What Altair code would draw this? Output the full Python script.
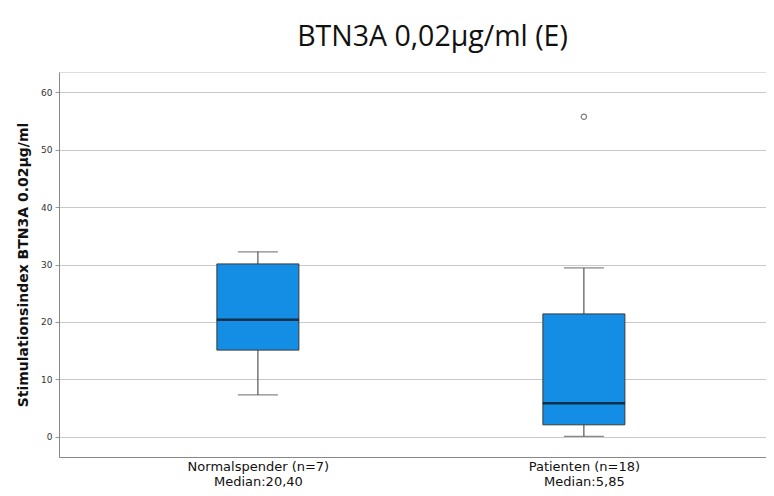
import altair as alt
import pandas as pd

groups = ["Normalspender (n=7)", "Patienten (n=18)"]
median_labels = ["Median:20,40", "Median:5,85"]
whisker_low = [7.3, 0.1]
q1 = [15.1, 2.1]
median = [20.4, 5.85]
q3 = [30.1, 21.4]
whisker_high = [32.2, 29.4]

outlier_groups = ["Patienten (n=18)"]
outlier_values = [55.7]

y_ticks = [0, 10, 20, 30, 40, 50, 60]

labels = [g + "|" + m for g, m in zip(groups, median_labels)]
df = pd.DataFrame({
    "label": labels,
    "low": whisker_low,
    "q1": q1,
    "median": median,
    "q3": q3,
    "high": whisker_high,
})
lab_map = dict(zip(groups, labels))
df_out = pd.DataFrame({"label": [lab_map[g] for g in outlier_groups], "value": outlier_values})

x_enc = alt.X(
    "label:N",
    sort=labels,
    scale=alt.Scale(type="point", padding=0.5844, align=0.522),
    axis=alt.Axis(
        title=None, labelAngle=0, ticks=False, grid=False,
        labelExpr="split(datum.label, '|')",
        labelFont="DejaVu Sans", labelFontSize=13, labelColor="#111",
        labelLineHeight=15, labelPadding=3,
        domainColor="#888", domainWidth=1,
    ),
)
y_scale = alt.Scale(domain=[-3.5, 63.5], nice=False, zero=False)
y_axis = alt.Axis(
    title="Stimulationsindex BTN3A 0.02µg/ml",
    values=y_ticks, grid=True, gridColor="#c9c9c9", gridWidth=1,
    tickSize=4, tickColor="#999", labelPadding=3,
    labelFont="DejaVu Sans", labelFontSize=9, labelColor="#333",
    titleFont="DejaVu Sans", titleFontSize=14, titleFontWeight="bold",
    titleColor="#111", titlePadding=10,
    domainColor="#888", domainWidth=1,
)

base = alt.Chart(df)

whisk_lo = base.mark_rule(color="#555", strokeWidth=1.2).encode(
    x=x_enc, y=alt.Y("low:Q", scale=y_scale, axis=y_axis), y2="q1:Q")
whisk_hi = base.mark_rule(color="#555", strokeWidth=1.2).encode(
    x=x_enc, y=alt.Y("q3:Q", scale=y_scale), y2="high:Q")
cap_lo = base.mark_tick(color="#555", size=40, thickness=1.2).encode(
    x=x_enc, y=alt.Y("low:Q", scale=y_scale))
cap_hi = base.mark_tick(color="#555", size=40, thickness=1.2).encode(
    x=x_enc, y=alt.Y("high:Q", scale=y_scale))
box = base.mark_bar(size=82, color="#148de4", stroke="#3a3a3a", strokeWidth=1).encode(
    x=x_enc, y=alt.Y("q1:Q", scale=y_scale), y2="q3:Q")
med = base.mark_tick(color="#0a0a0a", size=82, thickness=2.5).encode(
    x=x_enc, y=alt.Y("median:Q", scale=y_scale))
out = alt.Chart(df_out).mark_point(shape="circle", filled=False, color="#444", size=28, strokeWidth=1.2).encode(
    x=x_enc, y=alt.Y("value:Q", scale=y_scale))

chart = alt.layer(whisk_lo, whisk_hi, cap_lo, cap_hi, box, med, out).properties(
    width=707, height=385,
    title=alt.TitleParams(
        "BTN3A 0,02µg/ml (E)", font="Open Sans", fontSize=28.5, fontWeight="normal",
        color="#111", anchor="middle", dx=20, offset=21,
    ),
    autosize=alt.AutoSizeParams(type="none"),
    padding={"left": 51, "top": 64, "right": 0, "bottom": 31},
).configure_view(stroke=None).configure(background="white")

chart.save("out.html", embed_options={"renderer": "svg", "actions": False})
